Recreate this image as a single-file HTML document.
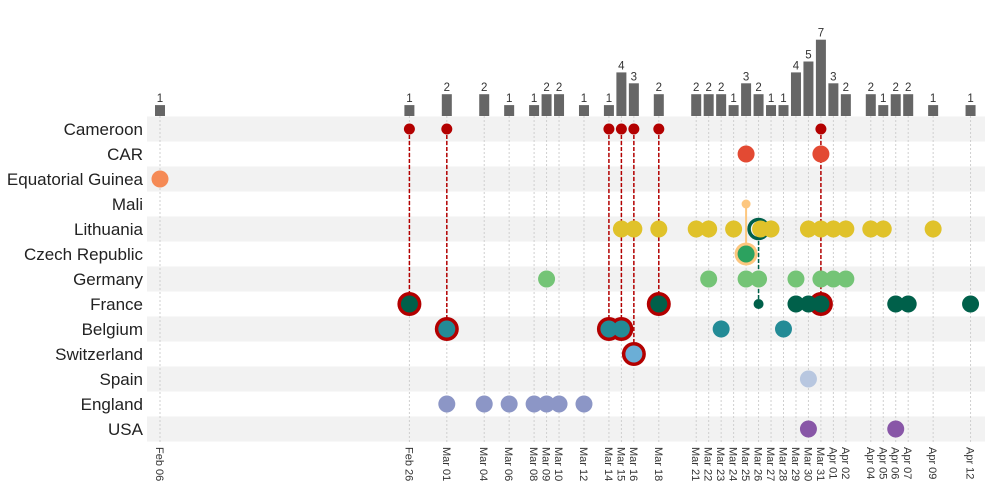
<!DOCTYPE html>
<html><head><meta charset="utf-8">
<style>
html,body{margin:0;padding:0;background:#fff;}
svg{display:block;font-family:"Liberation Sans",Helvetica,Arial,sans-serif;}
</style></head>
<body>
<svg id="chart" width="991" height="489" viewBox="0 0 991 489" xmlns="http://www.w3.org/2000/svg"></svg>
<script>
const countries = ["Cameroon","CAR","Equatorial Guinea","Mali","Lithuania","Czech Republic","Germany","France","Belgium","Switzerland","Spain","England","USA"];
const countryColors = ["#b30000","#e34a33","#f58a55","#fdc77f","#e0c22a","#2ca25f","#74c476","#00604a","#238b96","#6baed6","#b8c7e0","#8c96c6","#8856a7"];
const barDates = ["Feb 06","Feb 26","Mar 01","Mar 04","Mar 06","Mar 08","Mar 09","Mar 10","Mar 12","Mar 14","Mar 15","Mar 16","Mar 18","Mar 21","Mar 22","Mar 23","Mar 24","Mar 25","Mar 26","Mar 27","Mar 28","Mar 29","Mar 30","Mar 31","Apr 01","Apr 02","Apr 04","Apr 05","Apr 06","Apr 07","Apr 09","Apr 12"];
const barCounts = [1,1,2,2,1,1,2,2,1,1,4,3,2,2,2,2,1,3,2,1,1,4,5,7,3,2,2,1,2,2,1,1];
const events = {
  "Cameroon":["Feb 26","Mar 01","Mar 14","Mar 15","Mar 16","Mar 18","Mar 31"],
  "CAR":["Mar 25","Mar 31"],
  "Equatorial Guinea":["Feb 06"],
  "Mali":["Mar 25"],
  "Lithuania":["Mar 15","Mar 16","Mar 18","Mar 21","Mar 22","Mar 24","Mar 26","Mar 27","Mar 30","Mar 31","Apr 01","Apr 02","Apr 04","Apr 05","Apr 09"],
  "Czech Republic":["Mar 25"],
  "Germany":["Mar 09","Mar 22","Mar 25","Mar 26","Mar 29","Mar 31","Apr 01","Apr 02"],
  "France":["Feb 26","Mar 18","Mar 26","Mar 29","Mar 30","Mar 31","Apr 06","Apr 07","Apr 12"],
  "Belgium":["Mar 01","Mar 14","Mar 15","Mar 23","Mar 28"],
  "Switzerland":["Mar 16"],
  "Spain":["Mar 30"],
  "England":["Mar 01","Mar 04","Mar 06","Mar 08","Mar 09","Mar 10","Mar 12"],
  "USA":["Mar 30","Apr 06"]
};
const links = [
  ["Feb 26","Cameroon","France","red"],["Mar 01","Cameroon","Belgium","red"],
  ["Mar 14","Cameroon","Belgium","red"],["Mar 15","Cameroon","Belgium","red"],
  ["Mar 16","Cameroon","Switzerland","red"],["Mar 18","Cameroon","France","red"],
  ["Mar 31","Cameroon","France","red"],["Mar 26","Lithuania","France","green"],
  ["Mar 25","Mali","Czech Republic","orange"]
];
const smallDots = {"Cameroon":5.5,"Mali":4.5,"France|Mar 26":5};

const svg = document.getElementById('chart');
const NS = "http://www.w3.org/2000/svg";
const months = {Feb:0, Mar:28, Apr:59};
function dayIdx(s){const [m,d]=s.split(' ');return months[m]+(+d)-6;}
function x(s){return 160 + dayIdx(s)*12.47;}
function y(c){return 129 + countries.indexOf(c)*25;}
function barH(v){return v*10.9;}
function mk(tag, attrs, parent){const e=document.createElementNS(NS,tag);for(const k in attrs)e.setAttribute(k,attrs[k]);(parent||svg).appendChild(e);return e;}

countries.forEach((c,i)=>{
  if(i%2===0){
    const r=mk('rect',{x:147,y:y(c)-12.5,width:838,height:25,fill:'#f2f2f2'});
    
    
  }
});
barDates.forEach(d=>{
  const l=mk('line',{x1:x(d),x2:x(d),y1:116,y2:442,stroke:'#cfcfcf','stroke-width':1,'stroke-dasharray':'2,2'});
  
  
});
countries.forEach(c=>{
  const t=mk('text',{x:143,y:y(c)+6,'text-anchor':'end','font-size':17,fill:'#222'});
  t.textContent=c;
  
  
});
barDates.forEach((d,i)=>{
  const h=barH(barCounts[i]);
  const b=mk('rect',{x:x(d)-5,y:116-h,width:10,height:h,fill:'#666'});
  
  
  const t=mk('text',{x:x(d),y:116-h-3,'text-anchor':'middle','font-size':11.5,fill:'#333'});
  t.textContent=barCounts[i];
  
  
});
barDates.forEach(d=>{
  const t=mk('text',{transform:`translate(${x(d)-4},447) rotate(90)`,'font-size':11,fill:'#333'});
  t.textContent=d;
  
  
});
links.forEach(([d,a,b,type])=>{
  const col = type==='red'?'#b30000':type==='green'?'#00604a':'#fdc77f';
  const attrs={x1:x(d),x2:x(d),y1:y(a),y2:y(b),stroke:col,'stroke-width':type==='orange'?2:1.5};
  if(type!=='orange') attrs['stroke-dasharray']='4,2';
  const l=mk('line',attrs);
  
  
});
links.forEach(([d,a,b,type])=>{
  if(type==='red'){
    const h=mk('circle',{cx:x(d),cy:y(b),r:12,fill:'#b30000'});
    
    
  } else if(type==='orange'){
    const h=mk('circle',{cx:x(d),cy:y(b),r:11.5,fill:'#fdc77f'});
    
    
  }
});
links.forEach(([d,a,b,type])=>{
  if(type==='green'){
    const h=mk('circle',{cx:x(d),cy:y(a),r:9.5,fill:'none',stroke:'#00604a','stroke-width':3.5});
    
    
  }
});
countries.forEach((c,i)=>{
  events[c].forEach(d=>{
    let r = smallDots[c+'|'+d] || smallDots[c] || 8.5;
    const isLinkedTarget = links.some(l=>l[0]===d && l[2]===c && l[3]!=='green');
    if(isLinkedTarget) r = 8.5;
    const dot=mk('circle',{cx:x(d)+(c==='Lithuania'&&d==='Mar 26'?2:0),cy:y(c),r:r,fill:countryColors[i]});
    
    
  });
});
</script>
</body></html>
